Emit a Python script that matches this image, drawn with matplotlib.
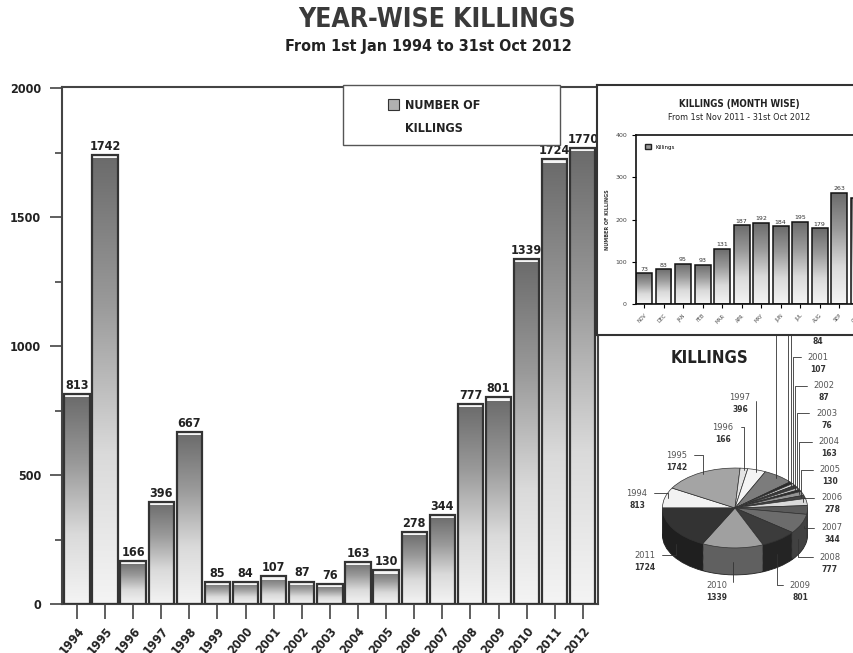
import numpy as np
import matplotlib
matplotlib.use("Agg")
import matplotlib.pyplot as plt
from matplotlib.colors import LinearSegmentedColormap, to_rgb
from matplotlib.patches import Rectangle, Patch
from matplotlib.ticker import MultipleLocator

# yearly data
years = ["1994", "1995", "1996", "1997", "1998", "1999", "2000", "2001", "2002", "2003",
         "2004", "2005", "2006", "2007", "2008", "2009", "2010", "2011", "2012"]
killings = [813, 1742, 166, 396, 667, 85, 84, 107, 87, 76,
            163, 130, 278, 344, 777, 801, 1339, 1724, 1770]

# month wise inset
months = ["NOV", "DEC", "JAN", "FEB", "MAR", "APR", "MAY", "JUN", "JUL", "AUG", "SEP", "OCT"]
month_killings = [73, 83, 95, 93, 131, 187, 192, 184, 195, 179, 263, 250]

# pie (1994 - 2011)
pie_years = years[:-1]
pie_killings = killings[:-1]
pie_colors = ["#f2f2f2", "#a4a4a4", "#e4e4e4", "#f4f4f4", "#7c7c7c", "#2a2a2a",
              "#cfcfcf", "#3a3a3a", "#bdbdbd", "#2c2c2c", "#959595", "#454545",
              "#dadada", "#5a5a5a", "#6c6c6c", "#3c3c3c", "#a0a0a0", "#333333"]
# label positions in figure pixels (from top-left)
pie_label_pos = [(637, 493), (677, 455), (723, 427), (740, 398), (795, 298), (808, 316),
                 (818, 330), (818, 357), (824, 386), (827, 413), (829, 442), (830, 470),
                 (832, 498), (832, 528), (830, 557), (800, 585), (717, 585), (645, 555)]

W, H = 854, 653
cond = dict(family="DejaVu Sans", stretch="condensed")

fig = plt.figure(figsize=(W / 100, H / 100), dpi=100)
fig.patch.set_facecolor("white")

grad = np.linspace(0, 1, 256).reshape(-1, 1)
cmap = LinearSegmentedColormap.from_list("g", ["#f4f4f4", "#dadada", "#9a9a9a", "#6a6a6a"])


def shade_bars(ax, bars):
    for b in bars:
        im = ax.imshow(grad, cmap=cmap, origin="lower", aspect="auto", zorder=2,
                       extent=(b.get_x(), b.get_x() + b.get_width(), 0, b.get_height()))
        im.set_clip_path(b)


# ---- main chart
ax = fig.add_axes([62 / W, 1 - 604 / H, (598 - 62) / W, (604 - 87) / H])
x = np.arange(len(years))
bars = ax.bar(x, killings, width=0.9, facecolor="none", edgecolor="#333", lw=1.6, zorder=3)
shade_bars(ax, bars)
# light cap on top of each bar
ax.bar(x, [10] * len(x), bottom=np.array(killings) - 12, width=0.9, color="#f4f4f4",
       edgecolor="none", zorder=2.5)
for b, v in zip(bars, killings):
    ax.annotate(str(v), (b.get_x() + b.get_width() / 2, v), xytext=(0, 1.5),
                textcoords="offset points", ha="center", va="bottom", fontsize=9,
                fontweight="bold", color="#222", **cond)
ax.set_xlim(-0.53, 18.54)
ax.set_ylim(0, 2005)
ax.set_yticks([0, 500, 1000, 1500, 2000])
ax.yaxis.set_minor_locator(MultipleLocator(250))
ax.set_xticks(x, years, rotation=50, ha="right", rotation_mode="anchor")
for lab in ax.get_xticklabels() + ax.get_yticklabels():
    lab.set_fontweight("bold")
    lab.set_fontstretch("condensed")
ax.tick_params(axis="x", length=11, width=1.2, color="#444", labelsize=9, labelcolor="#222", pad=4)
ax.tick_params(axis="y", which="major", length=9, width=1.2, color="#444", labelsize=9,
               labelcolor="#222", pad=6)
ax.tick_params(axis="y", which="minor", length=5, width=1.2, color="#444")
for s in ax.spines.values():
    s.set_color("#444")
    s.set_linewidth(1.5)

# legend box
ax.add_patch(Rectangle((0.524, 0.888), 0.405, 0.115, transform=ax.transAxes, facecolor="white",
                       edgecolor="#555", lw=1, zorder=5, clip_on=False))
ax.add_patch(Rectangle((0.608, 0.955), 0.02, 0.021, transform=ax.transAxes, facecolor="#b0b0b0",
                       edgecolor="#333", lw=0.8, zorder=6))
ax.text(0.64, 0.965, "NUMBER OF", transform=ax.transAxes, fontsize=9, fontweight="bold",
        color="#222", va="center", zorder=6, **cond)
ax.text(0.64, 0.92, "KILLINGS", transform=ax.transAxes, fontsize=9, fontweight="bold",
        color="#222", va="center", zorder=6, **cond)

fig.text(437 / W, 1 - 20 / H, "YEAR-WISE KILLINGS", ha="center", va="center", fontsize=19,
         fontweight="bold", color="#3a3a3a", **cond)
fig.text(428 / W, 1 - 47 / H, "From 1st Jan 1994 to 31st Oct 2012", ha="center", va="center",
         fontsize=11.5, fontweight="bold", color="#222", **cond)

# ---- pie
pa = fig.add_axes([600 / W, 0, 254 / W, 318 / H], zorder=1)
depth = 0.675
n_layers = 24
side_colors = [tuple(c * 0.6 for c in to_rgb(col)) for col in pie_colors]
for k in range(n_layers, 0, -1):
    lw = 0.6 if k == n_layers else 0
    pa.pie(pie_killings, colors=side_colors, startangle=180, counterclock=False,
           center=(0, -depth * k / n_layers), wedgeprops=dict(linewidth=lw, edgecolor="#222"))
wedges, _ = pa.pie(pie_killings, colors=pie_colors, startangle=180, counterclock=False,
                   wedgeprops=dict(edgecolor="#333", linewidth=0.5))
pa.set_aspect("auto")
pa.set_xlim(-1.86, 1.64)
pa.set_ylim(-3.63, 4.33)
for w, yr, v, (lx, ly) in zip(wedges, pie_years, pie_killings, pie_label_pos):
    a = np.deg2rad((w.theta1 + w.theta2) / 2)
    cx, cy = 0.95 * np.cos(a), 0.95 * np.sin(a)
    if cy < 0:
        cy -= depth * 0.6
    pa.annotate(yr, (cx, cy), xytext=(lx, H - ly), textcoords="figure pixels", ha="center",
                va="center", fontsize=6, color="#555", annotation_clip=False,
                arrowprops=dict(arrowstyle="-", color="#333", lw=0.6, shrinkA=3, shrinkB=0,
                                connectionstyle="angle,angleA=0,angleB=90,rad=0"))
    fig.text(lx / W, 1 - (ly + 12) / H, str(v), ha="center", va="center", fontsize=5.5,
             fontweight="bold", color="#333", zorder=1)
fig.text(710 / W, 1 - 358 / H, "KILLINGS", ha="center", va="center", fontsize=12,
         fontweight="bold", color="#222", **cond)

# ---- month wise panel
pan = fig.add_axes([597 / W, 1 - 335 / H, 257 / W, 250 / H], zorder=2)
pan.set_xticks([])
pan.set_yticks([])
for s in pan.spines.values():
    s.set_color("#333")
    s.set_linewidth(1.5)
pan.spines["right"].set_visible(False)

ins = fig.add_axes([636 / W, 1 - 304 / H, 244 / W, 169 / H], zorder=3)
mx = np.arange(len(months))
mbars = ins.bar(mx, month_killings, width=0.82, facecolor="none", edgecolor="#111", lw=1.1, zorder=3)
shade_bars(ins, mbars)
for b, v in zip(mbars, month_killings):
    ins.annotate(str(v), (b.get_x() + b.get_width() / 2, v), xytext=(0, 1),
                 textcoords="offset points", ha="center", va="bottom", fontsize=4.5, color="#333")
ins.set_xlim(-0.41, 12.1)
ins.set_ylim(0, 400)
ins.set_yticks([0, 100, 200, 300, 400])
ins.set_xticks(mx, months, rotation=45, ha="right", rotation_mode="anchor")
ins.tick_params(axis="x", length=3, labelsize=3.5, labelcolor="#444")
ins.tick_params(axis="y", length=3, labelsize=4.5, labelcolor="#444")
ins.set_ylabel("NUMBER OF KILLINGS", fontsize=3.5, fontweight="bold", color="#333", labelpad=4)
for s in ins.spines.values():
    s.set_color("#111")
    s.set_linewidth(1.2)
ins.spines["right"].set_visible(False)
ins.legend(handles=[Patch(facecolor="#999", edgecolor="#222", label="Killings")], loc="upper left",
           fontsize=4, frameon=False, handlelength=1, handleheight=1, borderpad=1.2)
fig.text(739 / W, 1 - 104 / H, "KILLINGS (MONTH WISE)", ha="center", va="center", fontsize=7,
         fontweight="bold", color="#222", zorder=4, **cond)
fig.text(739 / W, 1 - 117 / H, "From 1st Nov 2011 - 31st Oct 2012", ha="center", va="center",
         fontsize=6.5, color="#222", zorder=4, **cond)

fig.savefig("out.png", dpi=100)
